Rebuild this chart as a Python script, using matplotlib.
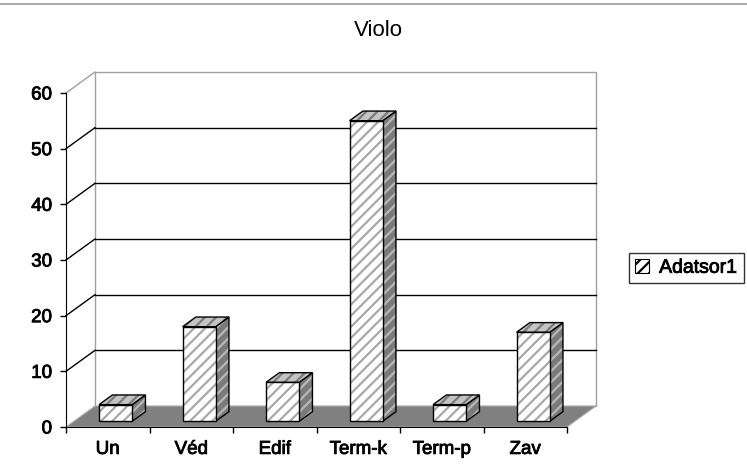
import matplotlib
matplotlib.use("Agg")
import matplotlib.pyplot as plt
from matplotlib.patches import Polygon, Patch
from matplotlib.lines import Line2D
import matplotlib.patheffects as pe

plt.rcParams['font.family'] = ['Liberation Sans', 'DejaVu Sans']
plt.rcParams['hatch.linewidth'] = 1.6

categories = ["Un", "Véd", "Edif", "Term-k", "Term-p", "Zav"]
values = [3, 17, 7, 54, 3, 16]
series_name = "Adatsor1"
title = "Violo"
yticks = [0, 10, 20, 30, 40, 50, 60]

W, H = 747, 465
fig = plt.figure(figsize=(W / 100, H / 100), dpi=100)
ax = fig.add_axes([66 / W, 38 / H, (567 - 66) / W, (427 - 93) / H])
n = len(categories)
ymax = yticks[-1]
ax.set_xlim(0, n)
ax.set_ylim(0, ymax)

# depth offsets in data units
px_per_x = (567 - 66) / n
px_per_y = (427 - 93) / ymax
DX = 29 / px_per_x
DY = 21 / px_per_y

def poly(pts, **kw):
    p = Polygon(pts, closed=True, clip_on=False, **kw)
    ax.add_patch(p)
    return p

wall_edge = '#a0a0a0'
# left wall
poly([(0, 0), (DX, DY), (DX, ymax + DY), (0, ymax)], facecolor='white', edgecolor='none', zorder=0)
ax.add_line(Line2D([0, DX], [ymax, ymax + DY], color=wall_edge, lw=1, clip_on=False, zorder=1))
# back wall
poly([(DX, DY), (n + DX, DY), (n + DX, ymax + DY), (DX, ymax + DY)], facecolor='white',
     edgecolor=wall_edge, lw=1, zorder=0.5)
# gridlines and left-wall diagonals
for t in yticks[1:-1]:
    ax.add_line(Line2D([DX, n + DX], [t + DY, t + DY], color='black', lw=1, clip_on=False, zorder=1))
    ax.add_line(Line2D([0, DX], [t, t + DY], color='black', lw=1, clip_on=False, zorder=1))
# floor
poly([(0, 0), (n, 0), (n + DX, DY), (DX, DY)], facecolor='#808080', edgecolor='#b0b0b0', lw=0.8, zorder=1.5)

# bars
hw = 0.198
f1, f2 = 0.27, 0.73
ddx, ddy = (f2 - f1) * DX, (f2 - f1) * DY

def hatched(pts, fc, hc, z):
    poly(pts, facecolor=fc, edgecolor=hc, lw=0, hatch='///', zorder=z)
    poly(pts, facecolor='none', edgecolor='black', lw=1, zorder=z + 0.01)

for i, v in enumerate(values):
    c = i + 0.5
    xl = c - hw + f1 * DX
    xr = c + hw + f1 * DX
    y0 = f1 * DY
    y1 = v + f1 * DY
    hatched([(xr, y0), (xr + ddx, y0 + ddy), (xr + ddx, y1 + ddy), (xr, y1)], '#7a7a7a', '#b8b8b8', 3 + i * 0.1)
    hatched([(xl, y1), (xr, y1), (xr + ddx, y1 + ddy), (xl + ddx, y1 + ddy)], '#c4c4c4', '#7a7a7a', 3 + i * 0.1 + 0.02)
    hatched([(xl, y0), (xr, y0), (xr, y1), (xl, y1)], 'white', '#a8a8a8', 3 + i * 0.1 + 0.04)

thick = [pe.withStroke(linewidth=0.6, foreground='black')]
LBL = dict(fontsize=13.5)

# axes styling
for s in ['top', 'right']:
    ax.spines[s].set_visible(False)
ax.spines['left'].set_color('black')
ax.spines['bottom'].set_color('black')
ax.spines['left'].set_zorder(5)
ax.spines['bottom'].set_zorder(5)
ax.patch.set_visible(False)
ax.set_yticks(yticks)
ax.set_yticklabels([str(t) for t in yticks], **LBL)
ax.tick_params(axis='y', direction='out', length=4, pad=6, width=1)
ax.set_xticks(range(n + 1))
ax.set_xticklabels([''] * (n + 1))
ax.set_xticks([i + 0.5 for i in range(n)], minor=True)
ax.set_xticklabels(categories, minor=True, **LBL)
ax.tick_params(axis='x', which='major', direction='out', length=4, width=1)
ax.tick_params(axis='x', which='minor', length=0, pad=10)
for lab in ax.get_yticklabels() + ax.get_xticklabels(minor=True):
    lab.set_path_effects(thick)

# title
fig.text(378 / W, 1 - 30 / H, title, ha='center', va='center', fontsize=16)
# top border line
fig.add_artist(Line2D([0, 1], [1 - 4 / H, 1 - 4 / H], color='#999999', lw=1.2, transform=fig.transFigure))

# legend
handle = Patch(facecolor='white', edgecolor='black', hatch='///', lw=0.8)
leg = fig.legend([handle], [series_name], loc='upper left', bbox_to_anchor=(629 / W, 1 - 253 / H),
                 prop=dict(size=14), frameon=True, fancybox=False,
                 handlelength=0.75, handleheight=0.75,
                 handletextpad=0.5, borderpad=0.3, borderaxespad=0)
leg.get_frame().set_edgecolor('black')
leg.get_frame().set_linewidth(1)
for t in leg.get_texts():
    t.set_path_effects(thick)

fig.savefig('out.png', dpi=100)
